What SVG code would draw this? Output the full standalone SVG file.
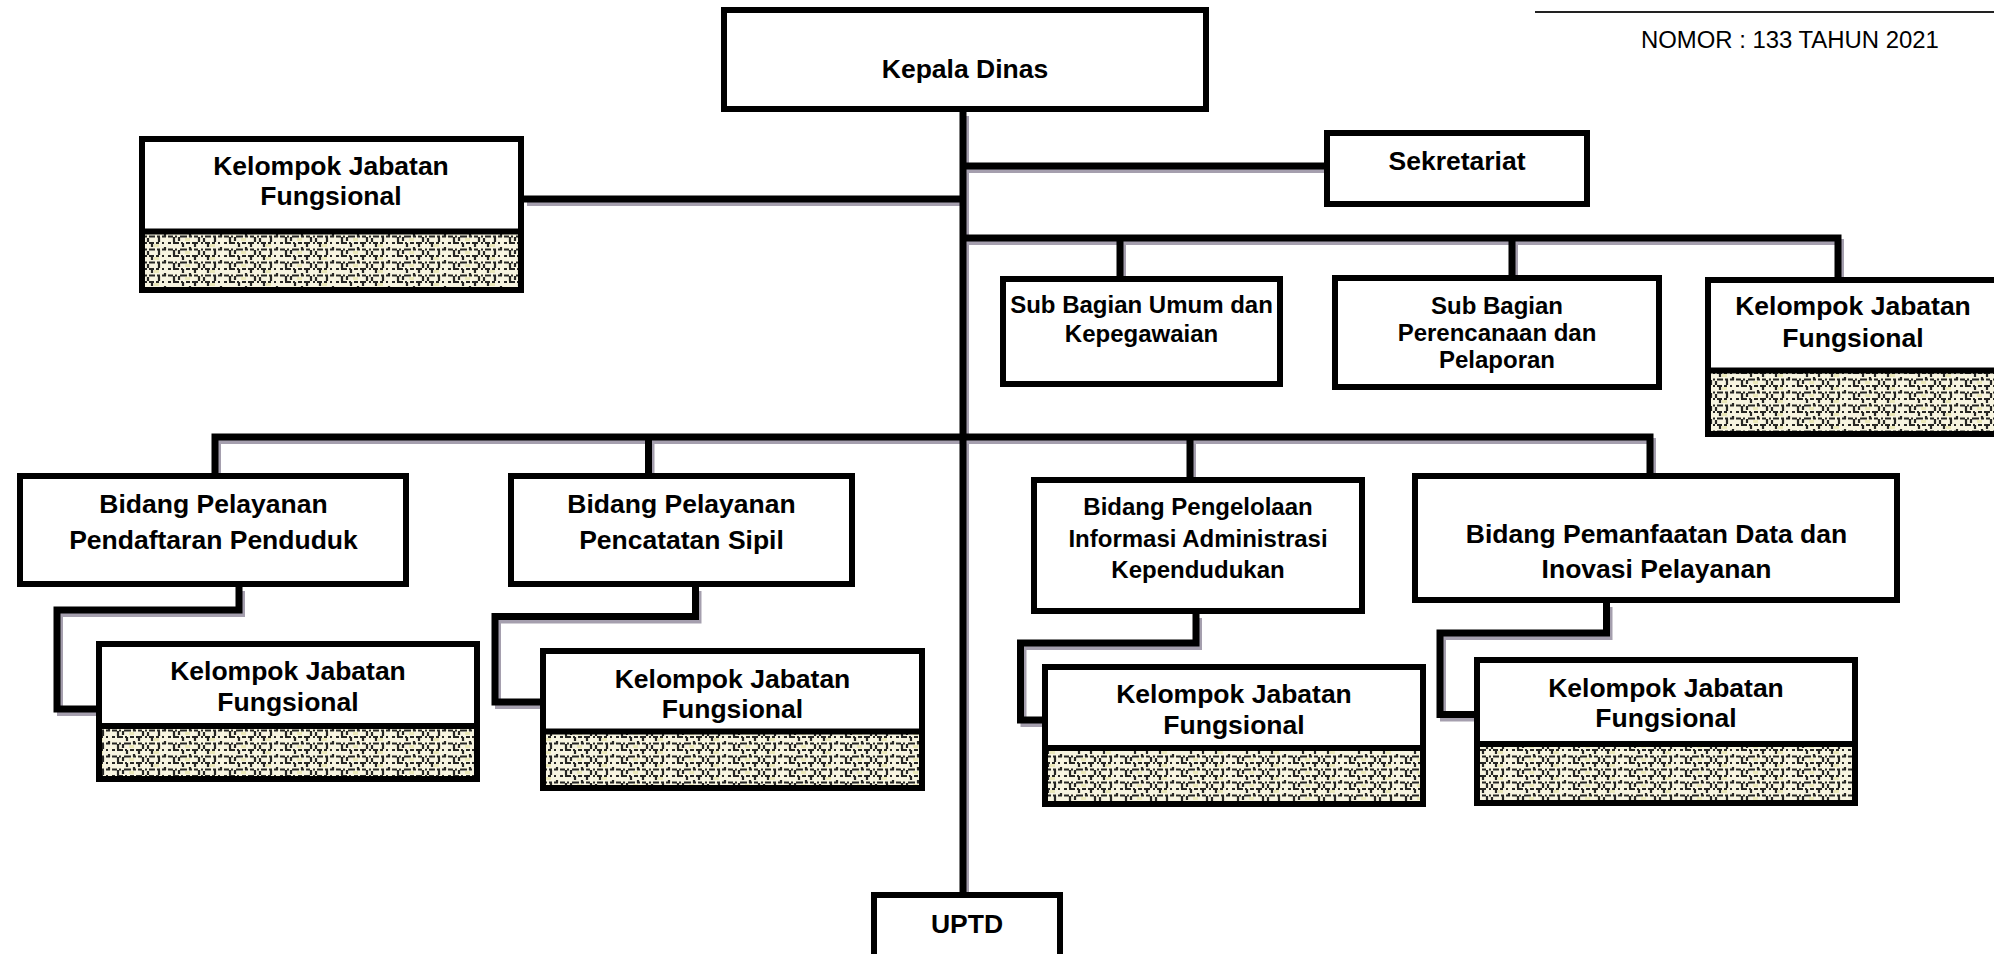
<svg xmlns="http://www.w3.org/2000/svg" width="1994" height="954" viewBox="0 0 1994 954">
<style>
.box{fill:#fff;stroke:#000;stroke-width:6}
.kjf{fill:url(#maze);stroke:#000;stroke-width:6}
.t{font-family:"Liberation Sans",Arial,sans-serif;font-weight:bold;font-size:26.5px;text-anchor:middle;fill:#000}
.s{font-size:24px}
.c{fill:none;stroke:#000;stroke-width:7;stroke-linejoin:miter}
.sh{fill:none;stroke:#a59fae;stroke-width:6;stroke-linejoin:miter}
</style>
<defs>
<pattern id="maze" patternUnits="userSpaceOnUse" width="56" height="13">
<rect width="56" height="13" fill="#f7f4e0"/>
<g stroke="#262624" stroke-width="2.2" fill="none">
<path d="M0 2.5H56" stroke-dasharray="5 2 2 3 7 2 3 2 4 3 2 2 6 2 3 2 4 2"/>
<path d="M0 9H56" stroke-dasharray="3 2 6 2 2 3 4 2 6 3 2 2 5 2 3 3 2 4"/>
<path d="M6 3V8M15 9V13M22 0V3M31 3V8M40 9V13M47 3V8M53 0V3M27 9V13M11 3V7M36 4V8"/>
</g>
<g fill="#e6e2a8" opacity="0.7">
<rect x="17" y="4" width="5" height="3"/>
<rect x="42" y="10" width="5" height="3"/>
</g>
</pattern>
</defs>
<rect width="1994" height="954" fill="#fff"/>
<line x1="1535" y1="12" x2="1994" y2="12" stroke="#222" stroke-width="2"/>
<text x="1641" y="48" font-family="Liberation Sans, Arial, sans-serif" font-size="23.9" fill="#000">NOMOR : 133 TAHUN 2021</text>

<g id="connectors">
<g transform="translate(3,4)">
<path class="sh" d="M963 112V892"/>
<path class="sh" d="M963 166H1324"/>
<path class="sh" d="M524 199H963"/>
<path class="sh" d="M963 238H1838V277M1120 238V276M1512 238V275"/>
<path class="sh" d="M215 473V437H1650V473M648.5 437V473M1190 437V477"/>
<path class="sh" d="M239 587V610H57V709H96"/>
<path class="sh" d="M695.5 587V616.5H495V702H540"/>
<path class="sh" d="M1196 614V643H1020.5V720H1042"/>
<path class="sh" d="M1606.5 603V633H1440V714.5H1474"/>
</g>
<path class="c" d="M963 112V892"/>
<path class="c" d="M963 166H1324"/>
<path class="c" d="M524 199H963"/>
<path class="c" d="M963 238H1838V277M1120 238V276M1512 238V275"/>
<path class="c" d="M215 473V437H1650V473M648.5 437V473M1190 437V477"/>
<path class="c" d="M239 587V610H57V709H96"/>
<path class="c" d="M695.5 587V616.5H495V702H540"/>
<path class="c" d="M1196 614V643H1020.5V720H1042"/>
<path class="c" d="M1606.5 603V633H1440V714.5H1474"/>
</g>

<g id="kepala-dinas">
<rect class="box" x="724" y="10" width="482" height="99"/>
<text class="t" x="965" y="78">Kepala Dinas</text>
</g>

<g id="kjf-top">
<rect class="kjf" x="142" y="139" width="379" height="151"/>
<rect class="box" x="142" y="139" width="379" height="92.5"/>
<text class="t" x="331" y="175">Kelompok Jabatan</text>
<text class="t" x="331" y="205">Fungsional</text>
</g>

<g id="sekretariat">
<rect class="box" x="1327" y="133" width="260" height="71"/>
<text class="t" x="1457" y="170">Sekretariat</text>
</g>

<g id="subbag-umum">
<rect class="box" x="1003" y="279" width="277" height="105"/>
<text class="t s" x="1141.5" y="313">Sub Bagian Umum dan</text>
<text class="t s" x="1141.5" y="342">Kepegawaian</text>
</g>

<g id="subbag-perencanaan">
<rect class="box" x="1335" y="278" width="324" height="109"/>
<text class="t s" x="1497" y="314">Sub Bagian</text>
<text class="t s" x="1497" y="341">Perencanaan dan</text>
<text class="t s" x="1497" y="368">Pelaporan</text>
</g>

<g id="kjf-sekretariat">
<rect class="kjf" x="1708" y="280" width="300" height="154"/>
<rect class="box" x="1708" y="280" width="300" height="90.5"/>
<text class="t" x="1853" y="315">Kelompok Jabatan</text>
<text class="t" x="1853" y="347">Fungsional</text>
</g>

<g id="bidang-pendaftaran">
<rect class="box" x="20" y="476" width="386" height="108"/>
<text class="t" x="213.5" y="513">Bidang Pelayanan</text>
<text class="t" x="213.5" y="549">Pendaftaran Penduduk</text>
</g>

<g id="kjf-pendaftaran">
<rect class="kjf" x="99" y="644" width="378" height="135"/>
<rect class="box" x="99" y="644" width="378" height="82"/>
<text class="t" x="288" y="680">Kelompok Jabatan</text>
<text class="t" x="288" y="711">Fungsional</text>
</g>

<g id="bidang-pencatatan">
<rect class="box" x="511" y="476" width="341" height="108"/>
<text class="t" x="681.5" y="513">Bidang Pelayanan</text>
<text class="t" x="681.5" y="549">Pencatatan Sipil</text>
</g>

<g id="kjf-pencatatan">
<rect class="kjf" x="543" y="651" width="379" height="137"/>
<rect class="box" x="543" y="651" width="379" height="80.5"/>
<text class="t" x="732.5" y="688">Kelompok Jabatan</text>
<text class="t" x="732.5" y="718">Fungsional</text>
</g>

<g id="bidang-pengelolaan">
<rect class="box" x="1034" y="480" width="328" height="131"/>
<text class="t s" x="1198" y="515">Bidang Pengelolaan</text>
<text class="t s" x="1198" y="547">Informasi Administrasi</text>
<text class="t s" x="1198" y="578">Kependudukan</text>
</g>

<g id="kjf-pengelolaan">
<rect class="kjf" x="1045" y="667" width="378" height="137"/>
<rect class="box" x="1045" y="667" width="378" height="81"/>
<text class="t" x="1234" y="703">Kelompok Jabatan</text>
<text class="t" x="1234" y="734">Fungsional</text>
</g>

<g id="bidang-pemanfaatan">
<rect class="box" x="1415" y="476" width="482" height="124"/>
<text class="t" x="1656.5" y="543">Bidang Pemanfaatan Data dan</text>
<text class="t" x="1656.5" y="578">Inovasi Pelayanan</text>
</g>

<g id="kjf-pemanfaatan">
<rect class="kjf" x="1477" y="660" width="378" height="143"/>
<rect class="box" x="1477" y="660" width="378" height="84"/>
<text class="t" x="1666" y="697">Kelompok Jabatan</text>
<text class="t" x="1666" y="727">Fungsional</text>
</g>

<g id="uptd">
<rect class="box" x="874" y="895" width="186" height="80"/>
<text class="t" x="967" y="933">UPTD</text>
</g>
</svg>
